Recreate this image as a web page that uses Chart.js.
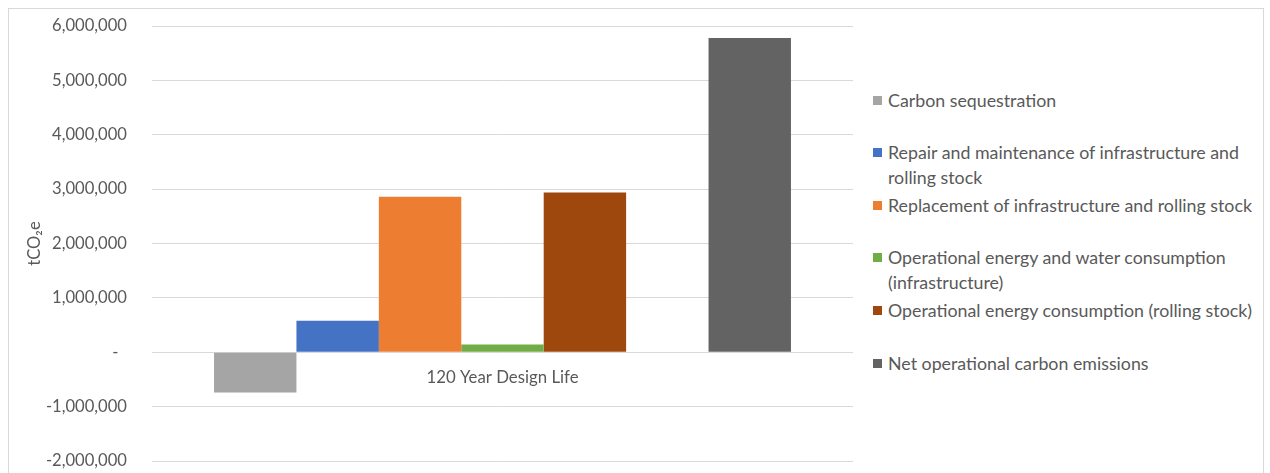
<!DOCTYPE html>
<html>
<head>
<meta charset="utf-8">
<script src="https://cdn.jsdelivr.net/npm/chart.js@4/dist/chart.umd.min.js"></script>
<style>
  body { margin: 0; width: 1270px; height: 473px; overflow: hidden; background: #fff; font-family: Lato, sans-serif; }
  #frame { position: absolute; left: 8px; top: 8px; width: 1256px; height: 500px; box-sizing: border-box; border: 1px solid #d9d9d9; }
  #plot { position: absolute; left: 0; top: 0; width: 860px; height: 475px; }
  #legend { position: absolute; left: 873px; top: 0; width: 385px; }
  .item { position: absolute; left: 0; width: 385px; }
  .box { position: absolute; left: 0; top: 8px; width: 9px; height: 9px; }
  .txt { position: absolute; left: 15px; top: 0; width: 372px; font-size: 17.8px; line-height: 25px; color: #595959; }
</style>
</head>
<body>
<div id="frame"></div>
<div id="plot"><canvas id="lifeChart"></canvas></div>
<div id="legend"></div>
<script>
const CATEGORIES = ["120 Year Design Life"];
const SERIES_NAMES = [
	"Carbon sequestration",
	"Repair and maintenance of infrastructure and rolling stock",
	"Replacement of infrastructure and rolling stock",
	"Operational energy and water consumption (infrastructure)",
	"Operational energy consumption (rolling stock)",
	"Net operational carbon emissions"
];
const SERIES_VALUES = [-740000, 580000, 2860000, 145000, 2940000, 5780000];
const SERIES_COLORS = ["#a5a5a5", "#4472c4", "#ed7d31", "#70ad47", "#9e480e", "#636363"];
const Y_TICKS = { min: -2000000, max: 6000000, step: 1000000 };

// bars 0-4 are the components, an empty slot, then the net total
let datasets = [];
SERIES_NAMES.forEach(function (name, i) {
	if (i === SERIES_NAMES.length - 1) {
		datasets.push({ label: "", data: [null], backgroundColor: "rgba(0,0,0,0)" });
	}
	datasets.push({
		label: name,
		data: [SERIES_VALUES[i]],
		backgroundColor: SERIES_COLORS[i],
		borderWidth: 0
	});
});

function drawChart() {
	const LIFECHART = document.getElementById("lifeChart");
	let lifeChart = new Chart(LIFECHART, {
		type: 'bar',
		data: {
			labels: CATEGORIES,
			datasets: datasets
		},
		options: {
			responsive: true,
			maintainAspectRatio: false,
			animation: false,
			layout: { padding: { left: 21, top: 26, right: 7, bottom: 0 } },
			datasets: { bar: { categoryPercentage: 0.823, barPercentage: 1.0 } },
			plugins: {
				legend: { display: false },
				tooltip: { enabled: false }
			},
			scales: {
				x: {
					position: { y: 0 },
					grid: { display: false, drawTicks: false },
					border: { display: false },
					ticks: {
						color: "#595959",
						padding: 15,
						font: { family: "Lato", size: 16.8 }
					}
				},
				y: {
					min: Y_TICKS.min,
					max: Y_TICKS.max,
					// invisible tick marks keep the labels clear of the plot
					grid: { color: "#d9d9d9", lineWidth: 1, drawTicks: true, tickLength: 21, tickColor: "rgba(0,0,0,0)" },
					border: { display: false },
					title: {
						display: true,
						text: "tCO₂e",
						color: "#595959",
						padding: { top: 4, bottom: -3 },
						font: { family: "Lato", size: 16.6 }
					},
					ticks: {
						stepSize: Y_TICKS.step,
						color: "#595959",
						padding: 4,
						font: { family: "Lato", size: 16.6 },
						callback: function (v) {
							return v === 0 ? "-  " : v.toLocaleString("en-US");
						}
					}
				}
			}
		}
	});
}

// legend on the right, one slot per series
const LEGEND = document.getElementById("legend");
SERIES_NAMES.forEach(function (name, i) {
	let item = document.createElement("div");
	item.className = "item";
	item.style.top = (87.5 + i * 52.6) + "px";
	item.innerHTML = '<div class="box" style="background:' + SERIES_COLORS[i] + '"></div><div class="txt">' + name + '</div>';
	LEGEND.appendChild(item);
});

// make sure Lato is ready before Chart.js measures the labels
document.fonts.load("16px Lato").then(drawChart, drawChart);
</script>
</body>
</html>
